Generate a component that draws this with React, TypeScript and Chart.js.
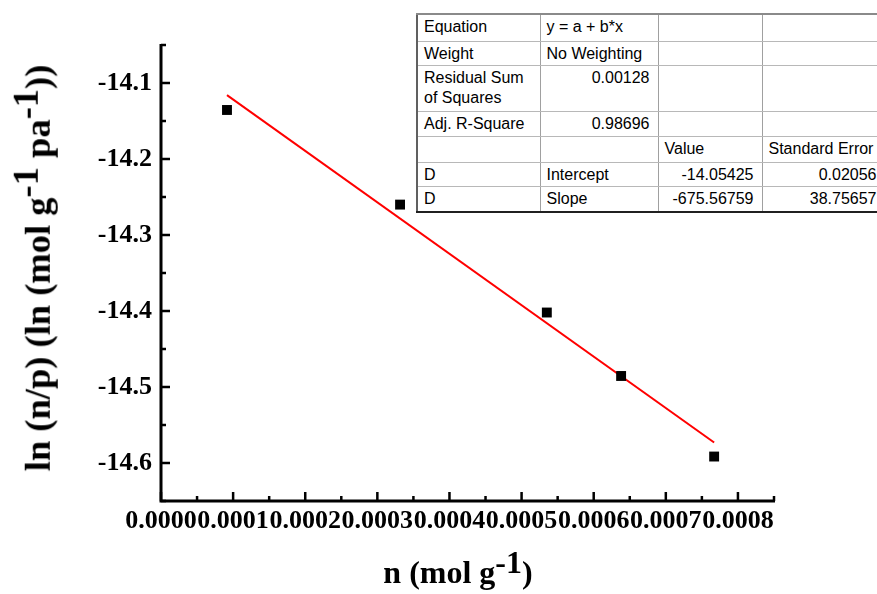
import React, { useEffect, useRef } from "react";
import { Chart, registerables } from "chart.js";

Chart.register(...registerables);

// ---- data ----
const nValues = [0.0000915, 0.0003315, 0.000535, 0.000638, 0.000767];
const lnValues = [-14.1355, -14.26, -14.402, -14.4855, -14.5915];
const fitX = [0.0000915, 0.000767];
const fitY = [-14.116, -14.573];

const xMajorTicks = [0, 0.0001, 0.0002, 0.0003, 0.0004, 0.0005, 0.0006, 0.0007, 0.0008];
const xMinorTicks = [0.00005, 0.00015, 0.00025, 0.00035, 0.00045, 0.00055, 0.00065, 0.00075, 0.00085];
const yMajorTicks = [-14.6, -14.5, -14.4, -14.3, -14.2, -14.1];
const yMinorTicks = [-14.65, -14.55, -14.45, -14.35, -14.25, -14.15, -14.05];
const xRange = [0, 0.00085];
const yRange = [-14.65, -14.05];

const tableCol1 = ["Equation", "Weight", "Residual Sum of Squares", "Adj. R-Square", "", "D", "D"];
const tableCol2 = ["y = a + b*x", "No Weighting", "0.00128", "0.98696", "", "Intercept", "Slope"];
const tableCol3 = ["", "", "", "", "Value", "-14.05425", "-675.56759"];
const tableCol4 = ["", "", "", "", "Standard Error", "0.02056", "38.75657"];

const isNumber = (s: string) => /^-?\d/.test(s);

const axesPlugin = {
  id: "originAxes",
  beforeDatasetsDraw(chart: any) {
    const { ctx, chartArea, scales } = chart;
    const { left, right, top, bottom } = chartArea;
    const xs = scales.x;
    const ys = scales.y;
    ctx.save();
    ctx.strokeStyle = "#000";
    ctx.lineWidth = 3;
    ctx.lineCap = "butt";
    ctx.beginPath();
    ctx.moveTo(left, top - 1);
    ctx.lineTo(left, bottom + 1.5);
    ctx.moveTo(left - 1.5, bottom);
    ctx.lineTo(right + 1, bottom);
    ctx.stroke();
    ctx.lineWidth = 2.5;
    ctx.beginPath();
    yMajorTicks.forEach((v) => {
      const y = ys.getPixelForValue(v);
      ctx.moveTo(left, y);
      ctx.lineTo(left + 9, y);
    });
    yMinorTicks.forEach((v) => {
      const y = ys.getPixelForValue(v);
      ctx.moveTo(left, y);
      ctx.lineTo(left + 5, y);
    });
    xMajorTicks.forEach((v) => {
      const x = xs.getPixelForValue(v);
      ctx.moveTo(x, bottom);
      ctx.lineTo(x, bottom - 9);
    });
    xMinorTicks.forEach((v) => {
      const x = xs.getPixelForValue(v);
      ctx.moveTo(x, bottom);
      ctx.lineTo(x, bottom - 5);
    });
    ctx.stroke();
    ctx.restore();
  },
};

const tickFont = { family: "'Liberation Serif', 'Times New Roman', serif", size: 26, weight: "bold" as const };

export default function App() {
  const ref = useRef<HTMLCanvasElement>(null);

  useEffect(() => {
    if (!ref.current) return;
    const chart = new Chart(ref.current, {
      type: "scatter",
      data: {
        datasets: [
          {
            label: "D",
            data: nValues.map((x, i) => ({ x, y: lnValues[i] })),
            pointStyle: "rect",
            pointRadius: 7,
            backgroundColor: "#000",
            borderColor: "#000",
            borderWidth: 0,
            showLine: false,
          },
          {
            label: "Fit",
            data: fitX.map((x, i) => ({ x, y: fitY[i] })),
            showLine: true,
            borderColor: "#ff0000",
            borderWidth: 2,
            pointRadius: 0,
            fill: false,
          },
        ],
      },
      options: {
        responsive: false,
        animation: false,
        events: [],
        layout: { padding: { left: 0, top: 45, right: 103, bottom: 0 } },
        plugins: { legend: { display: false }, tooltip: { enabled: false }, title: { display: false } },
        scales: {
          x: {
            type: "linear",
            position: "bottom",
            min: xRange[0],
            max: xRange[1],
            grid: { display: false, drawTicks: false },
            border: { display: false },
            afterBuildTicks: (scale: any) => {
              scale.ticks = xMajorTicks.map((v) => ({ value: v }));
            },
            afterFit: (scale: any) => {
              scale.height = 93;
            },
            ticks: {
              autoSkip: false,
              maxRotation: 0,
              minRotation: 0,
              padding: 5,
              color: "#000",
              font: tickFont,
              callback: (v: any) => Number(v).toFixed(4),
            },
          },
          y: {
            type: "linear",
            min: yRange[0],
            max: yRange[1],
            grid: { display: false, drawTicks: false },
            border: { display: false },
            afterBuildTicks: (scale: any) => {
              scale.ticks = yMajorTicks.map((v) => ({ value: v }));
            },
            afterFit: (scale: any) => {
              scale.width = 161;
            },
            ticks: {
              autoSkip: false,
              padding: 9,
              color: "#000",
              font: tickFont,
              callback: (v: any) => Number(v).toFixed(1),
            },
          },
        },
      },
      plugins: [axesPlugin],
    });
    return () => chart.destroy();
  }, []);

  const colWidths = [123, 118, 104, 123];
  const rowHeights = [27, 24, 46, 25, 26, 24, 26];
  const cols = [tableCol1, tableCol2, tableCol3, tableCol4];

  const titleFont = "'Liberation Serif', 'Times New Roman', serif";
  const supStyle: React.CSSProperties = { fontSize: "1em", position: "relative", top: "-0.32em", verticalAlign: "baseline" };

  return (
    <div style={{ position: "fixed", left: 0, top: 0, width: 877, height: 594, overflow: "hidden", background: "#fff" }}>
      <canvas ref={ref} width={877} height={594} style={{ position: "absolute", left: 0, top: 0 }} />
      <div
        style={{
          position: "absolute",
          left: 38,
          top: 268,
          transform: "translate(-50%, -50%) rotate(-90deg)",
          whiteSpace: "nowrap",
          fontFamily: titleFont,
          fontWeight: "bold",
          fontSize: 36.5,
          lineHeight: 1,
          color: "#000",
        }}
      >
        ln (n/p) (ln (mol g<span style={supStyle}>-1</span> pa<span style={supStyle}>-1</span>))
      </div>
      <div
        style={{
          position: "absolute",
          left: 458,
          top: 556,
          transform: "translateX(-50%)",
          whiteSpace: "nowrap",
          fontFamily: titleFont,
          fontWeight: "bold",
          fontSize: 32,
          lineHeight: 1,
          color: "#000",
        }}
      >
        n (mol g<span style={supStyle}>-1</span>)
      </div>
      <table
        style={{
          position: "absolute",
          left: 416,
          top: 13,
          borderCollapse: "collapse",
          tableLayout: "fixed",
          width: colWidths.reduce((a, b) => a + b, 0),
          fontFamily: "'Liberation Sans', Arial, sans-serif",
          fontSize: 16,
          lineHeight: "20px",
          color: "#000",
          background: "#fff",
          borderTop: "2px solid #8a8a8a",
          borderLeft: "2px solid #606060",
          borderBottom: "2px solid #202020",
        }}
      >
        <colgroup>
          {colWidths.map((w, i) => (
            <col key={i} style={{ width: w }} />
          ))}
        </colgroup>
        <tbody>
          {rowHeights.map((h, r) => (
            <tr key={r} style={{ height: h }}>
              {cols.map((c, ci) => (
                <td
                  key={ci}
                  style={{
                    height: h,
                    boxSizing: "border-box",
                    padding: "2px 8px 0 6px",
                    verticalAlign: "top",
                    textAlign: isNumber(c[r]) ? "right" : "left",
                    borderRight: "1px solid #a0a0a0",
                    borderBottom: r === rowHeights.length - 1 ? undefined : "1px solid #b8b8b8",
                    overflow: "hidden",
                    whiteSpace: ci === 0 && r === 2 ? "normal" : "nowrap",
                  }}
                >
                  {c[r]}
                </td>
              ))}
            </tr>
          ))}
        </tbody>
      </table>
    </div>
  );
}
